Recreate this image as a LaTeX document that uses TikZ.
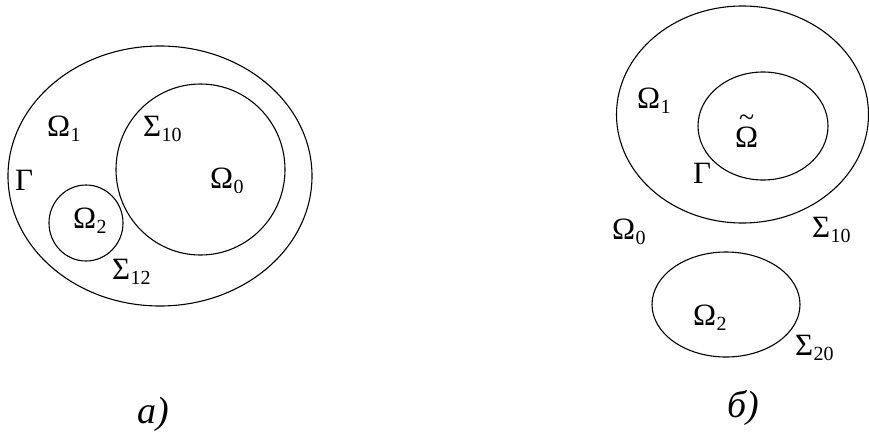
\documentclass[tikz,border=0pt]{standalone}
\usepackage{fontspec}
\setmainfont{Liberation Serif}
\newcommand\sublab[2]{#1\kern0.3pt\raisebox{-5pt}{\fontsize{20}{20}\selectfont #2}}
\newcommand\tildeom{\ooalign{Ω\cr\hidewidth\raisebox{21pt}{\fontsize{28}{28}\selectfont\char"7E}\hidewidth\cr}}
\begin{document}
\begin{tikzpicture}[x=1pt,y=-1pt,
  curve/.style={line width=1.1pt},
  lbl/.style={anchor=base west,inner sep=0pt,font=\fontsize{31}{31}\selectfont},
  capt/.style={anchor=base west,inner sep=0pt,font=\fontsize{38}{38}\selectfont\itshape}]
\useasboundingbox (0,0) rectangle (869,434);
\fill[white] (0,0) rectangle (869,434);
% left panel
\draw[curve] (160,176) ellipse [x radius=152pt, y radius=130pt];
\draw[curve] (200.5,169.5) ellipse [x radius=84.5pt, y radius=85.5pt];
\draw[curve] (86,223) ellipse [x radius=37pt, y radius=38pt];
\node[lbl] (lo1) at (47,136) {\sublab{Ω}{1}};
\node[lbl] (ls10) at (143,136) {\sublab{Σ}{10}};
\node[lbl] (lg) at (15,190) {Γ};
\node[lbl] (lo2) at (73,228) {\sublab{Ω}{2}};
\node[lbl] (ls12) at (112,279) {\sublab{Σ}{12}};
\node[lbl] (lo0) at (210,188) {\sublab{Ω}{0}};
\node[capt] (ca) at (137,423) {a)};
% right panel
\draw[curve] (742.5,114.5) ellipse [x radius=126pt, y radius=108.5pt];
\draw[curve] (763,126) ellipse [x radius=65pt, y radius=54pt];
\draw[curve] (726,304.5) ellipse [x radius=74pt, y radius=52.5pt];
\node[lbl] (ro1) at (637,108) {\sublab{Ω}{1}};
\node[lbl] (rot) at (735,147) {\tildeom};
\node[lbl] (rg) at (693,183) {Γ};
\node[lbl] (ro0) at (612,239) {\sublab{Ω}{0}};
\node[lbl] (rs10) at (812,237) {\sublab{Σ}{10}};
\node[lbl] (ro2) at (693,325) {\sublab{Ω}{2}};
\node[lbl] (rs20) at (795,355) {\sublab{Σ}{20}};
\node[capt] (cb) at (727,417) {б)};
\end{tikzpicture}
\end{document}
